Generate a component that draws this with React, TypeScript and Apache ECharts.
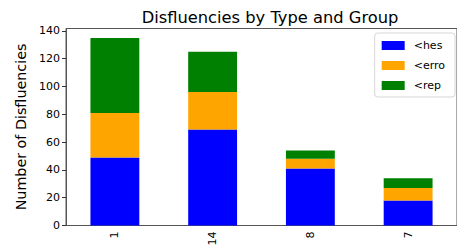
import React, { useEffect, useRef } from "react";
import * as echarts from "echarts";

const categories = ["1", "14", "8", "7"];
const hesValues = [49, 69, 41, 18];
const erroValues = [32, 27, 7, 9];
const repValues = [54, 29, 6, 7];
const yTicks = [0, 20, 40, 60, 80, 100, 120, 140];

export default function App() {
  const ref = useRef<HTMLDivElement>(null);
  useEffect(() => {
    if (!ref.current) return;
    const chart = echarts.init(ref.current, null, { renderer: "svg" });
    const font = "DejaVu Sans";
    chart.setOption({
      animation: false,
      backgroundColor: "#ffffff",
      title: {
        text: "Disfluencies by Type and Group",
        left: 265,
        top: 4,
        textAlign: "center",
        textStyle: { fontFamily: font, fontSize: 16.3, fontWeight: "normal", color: "#000" },
      },
      legend: {
        right: 2,
        top: 33,
        orient: "vertical",
        itemWidth: 23,
        itemHeight: 9,
        itemGap: 9,
        padding: [7, 10, 6, 7],
        borderColor: "#d6d6d6",
        borderWidth: 1,
        borderRadius: 3,
        backgroundColor: "#fff",
        icon: "rect",
        textStyle: { fontFamily: font, fontSize: 11, color: "#000", padding: [0, 0, 0, 4] },
        data: ["<hes", "<erro", "<rep"],
      },
      grid: {
        left: 66,
        top: 28.5,
        width: 397,
        height: 197,
        show: true,
        borderColor: "#555",
        borderWidth: 1,
        backgroundColor: "transparent",
      },
      xAxis: {
        type: "category",
        data: categories,
        axisLine: { lineStyle: { color: "#555", width: 1 } },
        axisTick: { alignWithLabel: true, length: 4, lineStyle: { color: "#333" } },
        axisLabel: { rotate: 90, fontFamily: font, fontSize: 11, color: "#000", margin: 6 },
      },
      yAxis: {
        type: "value",
        min: 0,
        max: 141.75,
        interval: 20,
        name: "Number of Disfluencies",
        nameLocation: "middle",
        nameGap: 38,
        nameTextStyle: { fontFamily: font, fontSize: 14.3, color: "#000" },
        splitLine: { show: false },
        axisLine: { show: true, lineStyle: { color: "#555", width: 1 } },
        axisTick: { show: true, length: 4, lineStyle: { color: "#333" } },
        axisLabel: {
          fontFamily: font,
          fontSize: 11,
          color: "#000",
          margin: 6,
          showMaxLabel: false,
          formatter: (v: number) => (yTicks.includes(v) ? String(v) : ""),
        },
      },
      series: [
        { name: "<hes", type: "bar", stack: "all", data: hesValues, barWidth: "50%", itemStyle: { color: "#0000ff" } },
        { name: "<erro", type: "bar", stack: "all", data: erroValues, barWidth: "50%", itemStyle: { color: "#ffa500" } },
        { name: "<rep", type: "bar", stack: "all", data: repValues, barWidth: "50%", itemStyle: { color: "#008000" } },
      ],
    });
    return () => chart.dispose();
  }, []);
  return <div ref={ref} style={{ width: 457, height: 251, position: "absolute", left: 0, top: 0 }} />;
}
